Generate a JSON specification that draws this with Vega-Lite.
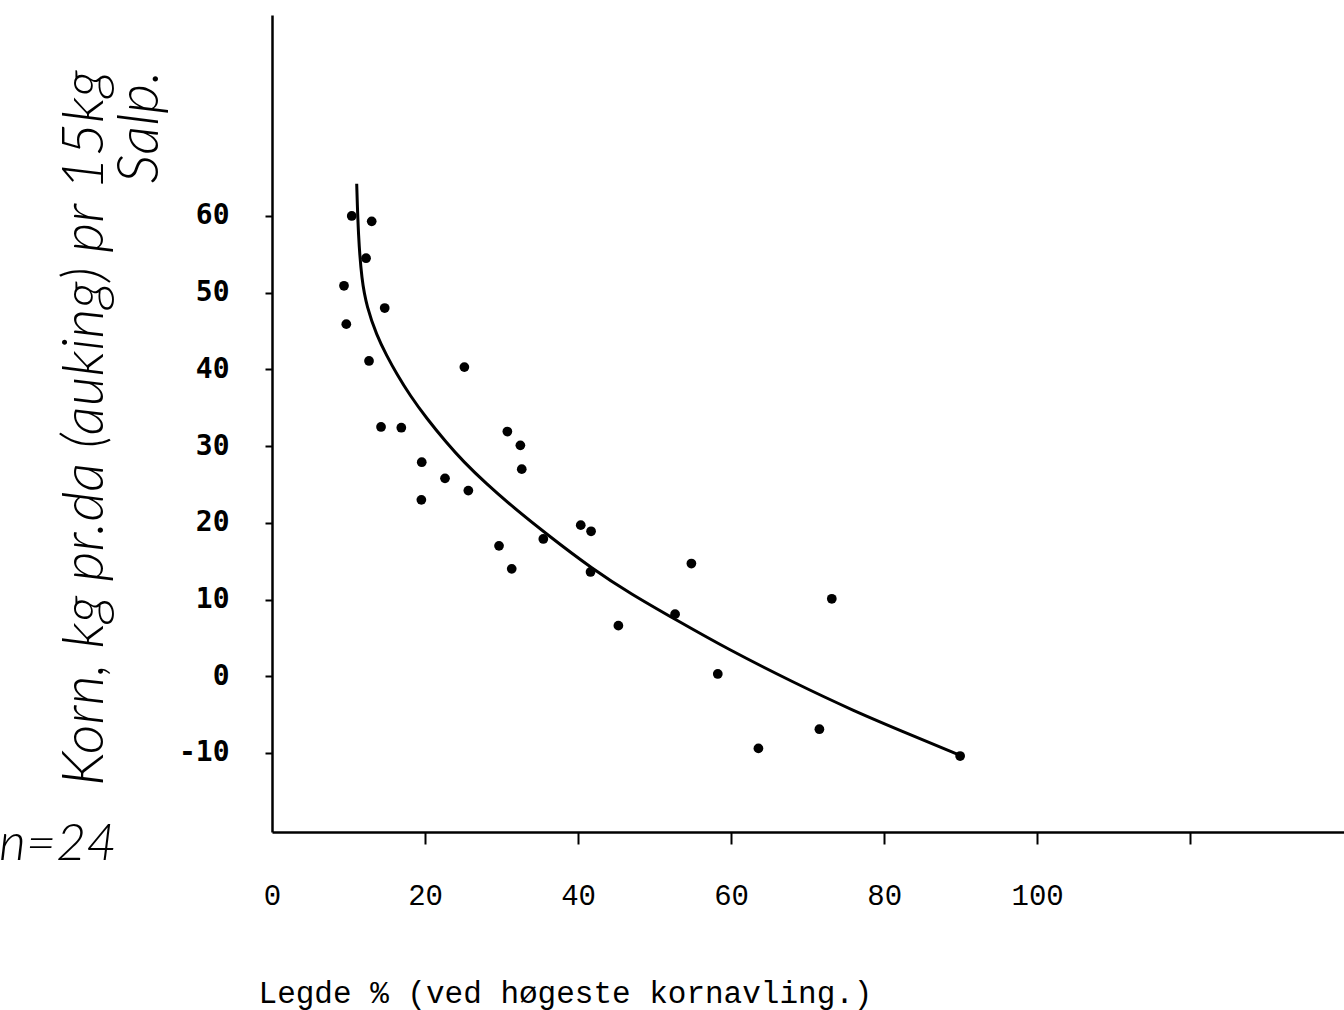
{
  "$schema": "https://vega.github.io/schema/vega-lite/v6.json",
  "width": 1072,
  "height": 817,
  "autosize": "none",
  "padding": {"left": 272, "top": 15, "right": 0, "bottom": 178},
  "background": "white",
  "config": {"view": {"stroke": null}},
  "datasets": {
    "curve": [
      {"legde": 11.07, "korn": 64.2},
      {"legde": 11.28, "korn": 57.3},
      {"legde": 11.73, "korn": 51.6},
      {"legde": 12.38, "korn": 48.2},
      {"legde": 13.69, "korn": 44.4},
      {"legde": 14.99, "korn": 41.8},
      {"legde": 16.3, "korn": 39.4},
      {"legde": 18.04, "korn": 36.6},
      {"legde": 20.22, "korn": 33.6},
      {"legde": 22.84, "korn": 30.4},
      {"legde": 25.0, "korn": 28.0},
      {"legde": 28.0, "korn": 25.1},
      {"legde": 31.08, "korn": 22.4},
      {"legde": 35.91, "korn": 18.5},
      {"legde": 42.0, "korn": 13.9},
      {"legde": 46.8, "korn": 10.8},
      {"legde": 52.9, "korn": 7.3},
      {"legde": 59.44, "korn": 3.6},
      {"legde": 68.14, "korn": -0.8},
      {"legde": 75.99, "korn": -4.5},
      {"legde": 83.4, "korn": -7.6},
      {"legde": 89.93, "korn": -10.3}
    ],
    "points": [
      {"legde": 10.42, "korn": 60.0},
      {"legde": 13.03, "korn": 59.3},
      {"legde": 12.29, "korn": 54.5},
      {"legde": 9.41, "korn": 50.9},
      {"legde": 14.73, "korn": 48.0},
      {"legde": 9.71, "korn": 45.9},
      {"legde": 12.68, "korn": 41.1},
      {"legde": 25.14, "korn": 40.3},
      {"legde": 14.25, "korn": 32.5},
      {"legde": 16.9, "korn": 32.4},
      {"legde": 30.76, "korn": 31.9},
      {"legde": 32.46, "korn": 30.1},
      {"legde": 19.57, "korn": 27.9},
      {"legde": 32.64, "korn": 27.0},
      {"legde": 22.61, "korn": 25.8},
      {"legde": 25.66, "korn": 24.2},
      {"legde": 19.52, "korn": 23.0},
      {"legde": 40.35, "korn": 19.7},
      {"legde": 41.7, "korn": 18.9},
      {"legde": 35.46, "korn": 17.9},
      {"legde": 29.67, "korn": 17.0},
      {"legde": 31.33, "korn": 14.0},
      {"legde": 41.63, "korn": 13.6},
      {"legde": 54.81, "korn": 14.7},
      {"legde": 52.68, "korn": 8.1},
      {"legde": 45.27, "korn": 6.6},
      {"legde": 73.16, "korn": 10.1},
      {"legde": 58.26, "korn": 0.3},
      {"legde": 71.54, "korn": -6.9},
      {"legde": 63.57, "korn": -9.4},
      {"legde": 89.93, "korn": -10.4}
    ],
    "notes": [
      {"legde": -28, "korn": -21.8, "label": "n=24"}
    ]
  },
  "encoding": {
    "x": {
      "field": "legde",
      "type": "quantitative",
      "scale": {"domain": [0, 140.1], "nice": false, "zero": false},
      "axis": {
        "title": "Legde % (ved høgeste kornavling.)",
        "titleFont": "Liberation Mono",
        "titleFontSize": 31,
        "titleFontWeight": "normal",
        "titleColor": "black",
        "titleAlign": "center",
        "titleBaseline": "alphabetic",
        "titleX": 293,
        "titleY": 170,
        "values": [0, 20, 40, 60, 80, 100, 120],
        "labelExpr": "datum.value == 120 ? '' : toString(datum.value)",
        "labelFont": "Liberation Mono",
        "labelFontSize": 29,
        "labelColor": "black",
        "labelPadding": 37,
        "labelBaseline": "top",
        "labelFlush": false,
        "labelOverlap": false,
        "tickSize": 12,
        "tickWidth": 2,
        "tickColor": "black",
        "tickOpacity": {"condition": {"test": "datum.value == 0", "value": 0}, "value": 1},
        "domainColor": "black",
        "domainWidth": 2.5,
        "grid": false
      }
    },
    "y": {
      "field": "korn",
      "type": "quantitative",
      "scale": {"domain": [-20.3, 86.2], "nice": false, "zero": false},
      "axis": {
        "title": ["Korn, kg pr.da (auking) pr 15kg", "Salp."],
        "titleFont": "Lato",
        "titleFontSize": 58,
        "titleFontStyle": "italic",
        "titleFontWeight": 300,
        "titleColor": "black",
        "titleAngle": -90,
        "titleAlign": "right",
        "titleBaseline": "alphabetic",
        "titleX": -170,
        "titleY": 55,
        "titleLineHeight": 55,
        "values": [-10, 0, 10, 20, 30, 40, 50, 60],
        "labelExpr": "toString(datum.value)",
        "labelFont": "DejaVu Sans Mono",
        "labelFontSize": 28,
        "labelFontWeight": "bold",
        "labelColor": "black",
        "labelPadding": 36,
        "labelBaseline": "middle",
        "labelFlush": false,
        "labelOverlap": false,
        "tickSize": 7,
        "tickWidth": 2,
        "tickColor": "black",
        "domainColor": "black",
        "domainWidth": 2.5,
        "grid": false
      }
    }
  },
  "layer": [
    {
      "data": {"name": "curve"},
      "mark": {"type": "line", "color": "black", "strokeWidth": 3, "interpolate": "basis"}
    },
    {
      "data": {"name": "points"},
      "mark": {"type": "point", "shape": "circle", "filled": true, "color": "black", "opacity": 1, "size": 95}
    },
    {
      "data": {"name": "notes"},
      "mark": {"type": "text", "font": "Lato", "fontSize": 52, "fontStyle": "italic", "fontWeight": 300, "color": "black", "align": "center", "baseline": "middle"},
      "encoding": {"text": {"field": "label"}}
    }
  ]
}
